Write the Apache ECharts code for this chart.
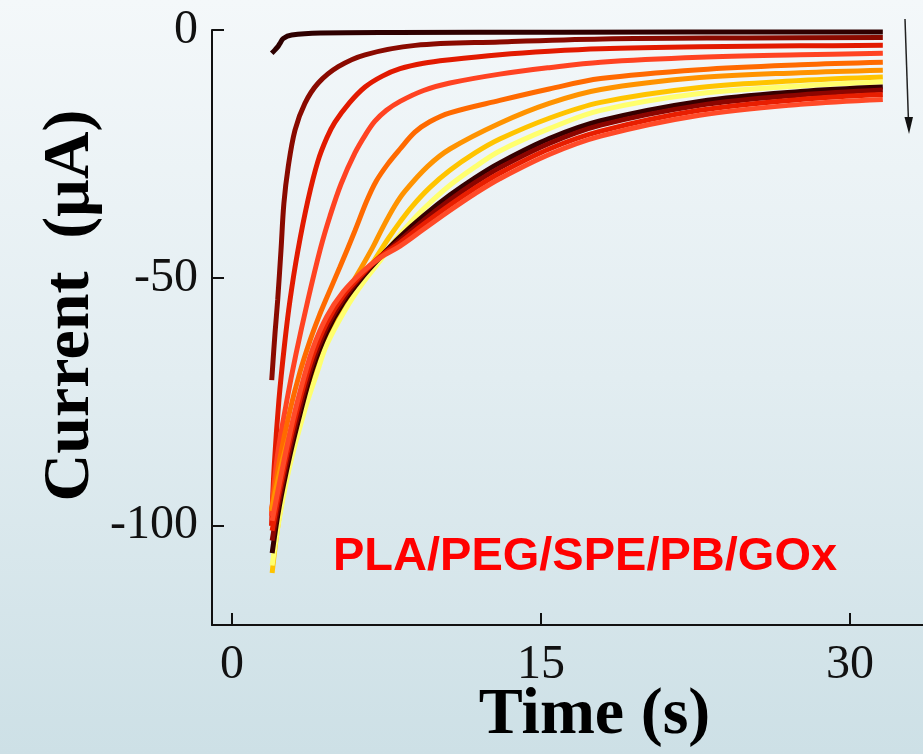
<!DOCTYPE html>
<html>
<head>
<meta charset="utf-8">
<title>Current vs Time</title>
<script src="https://cdn.jsdelivr.net/npm/echarts@6.0.0/dist/echarts.min.js"></script>
<style>
  html, body { margin: 0; padding: 0; }
  #chart { width: 923px; height: 754px; }
</style>
</head>
<body>
<div id="chart"></div>
<script>
// axis ticks
var xTicks = [0, 15, 30];
var yTicks = [-100, -50, 0];

// line colours, first curve to last
var colors = ['#2e0000', '#8a0a00', '#e21a00', '#ff4322', '#ff6a00', '#ff9300',
  '#ffc400', '#ffff6e', '#360000', '#8c0500', '#e81e00', '#ff4a28'];

// [time (s), current (uA)]
var c1 = [[1.93, -4.7], [2.09, -4.0], [2.22, -3.4], [2.33, -2.7], [2.49, -1.7], [2.9, -1.0], [4.3, -0.6], [8, -0.5], [16, -0.45], [31.6, -0.4]];
var c2 = [[1.93, -70.6], [2.09, -61.1], [2.22, -54.4], [2.38, -44.4], [2.52, -35], [2.73, -27.6], [3.06, -20.2], [3.54, -14.8], [4.19, -10.7], [5.16, -7.4], [6.46, -5.0], [8.9, -3.1], [13, -2.4], [18, -1.8], [25, -1.6], [31.6, -1.5]];
var c3 = [[1.92, -100], [2.05, -88], [2.28, -74.6], [2.55, -63.5], [2.82, -54.4], [3.2, -44.5], [3.69, -34.3], [4.17, -26.5], [4.6, -21.8], [5.0, -18.6], [5.7, -14.7], [6.46, -11.5], [7.3, -9.3], [8.16, -7.8], [9.3, -6.7], [10.58, -6.0], [13, -5.0], [15.4, -4.3], [17.9, -3.8], [22.7, -3.4], [27.6, -3.2], [31.6, -3.1]];
var c4 = [[1.92, -98], [2.2, -86], [2.67, -74.6], [3.1, -65.5], [3.69, -54.4], [4.3, -44], [4.76, -37.5], [5.3, -31], [5.97, -24.8], [6.5, -21], [6.94, -18.4], [7.5, -16.2], [8.16, -14.4], [9.3, -12.2], [10.58, -10.7], [13, -8.9], [15.4, -7.6], [17.9, -6.5], [22.7, -5.5], [27.6, -5.0], [31.6, -4.7]];
var c5 = [[1.92, -97], [2.3, -87], [2.8, -77], [3.3, -69], [3.8, -62.5], [4.2, -58], [4.6, -54], [5.24, -47.8], [5.97, -40.5], [6.54, -34.5], [7.0, -30.5], [7.57, -27], [8.16, -24], [8.88, -20.6], [9.6, -18.5], [10.58, -16.7], [13, -14.2], [15.4, -11.9], [17.9, -9.8], [22.7, -8], [27.6, -7], [31.6, -6.5]];
var c6 = [[1.92, -97], [2.5, -86], [3.2, -76], [4.0, -66.5], [4.7, -59.5], [5.49, -53.5], [6.2, -48.5], [6.84, -43.8], [7.3, -40], [7.9, -35.5], [8.4, -32.5], [9.5, -27.5], [10.58, -24], [13, -18.8], [15.4, -14.8], [17.9, -12], [22.7, -9.6], [27.6, -8.6], [31.6, -8.1]];
var c7 = [[1.95, -109.5], [2.3, -98], [2.8, -87], [3.4, -77.5], [4.1, -68], [4.8, -61], [5.6, -54.5], [6.3, -50], [6.9, -46.5], [7.6, -42], [8.16, -38.7], [8.74, -35.6], [9.6, -31.8], [10.58, -28.3], [11.8, -24.8], [13, -22], [15.4, -17.8], [17.9, -14.6], [22.7, -11.6], [27.6, -10.2], [31.6, -9.5]];
var c8 = [[1.95, -108], [2.3, -98.5], [2.8, -88], [3.54, -76.6], [4.1, -69.5], [4.6, -63.5], [5.49, -56.5], [6.36, -51], [7.2, -46.5], [7.9, -42.5], [8.8, -38.2], [9.7, -34.5], [10.58, -31.3], [11.8, -27.6], [13, -24.4], [15.4, -19.9], [17.9, -16.2], [22.7, -12.8], [27.6, -11.3], [31.6, -10.5]];
var c9 = [[1.95, -105.5], [2.3, -96], [2.8, -86], [3.3, -77.5], [3.9, -68.5], [4.6, -61], [5.4, -55], [6.3, -50], [7.2, -45.8], [8.16, -41.7], [9.3, -37.5], [10.58, -33.3], [11.8, -29.8], [13, -26.8], [15.4, -21.9], [17.9, -18.3], [22.7, -14.4], [27.6, -12.4], [31.6, -11.5]];
var c10 = [[1.95, -103], [2.3, -94.5], [2.8, -84.5], [3.3, -76], [3.9, -67.3], [4.6, -60], [5.4, -54.3], [6.3, -49.6], [7.2, -45.7], [8.16, -42.4], [9.3, -38.4], [10.58, -34.3], [11.8, -30.8], [13, -27.8], [15.4, -22.9], [17.9, -19.2], [22.7, -15.2], [27.6, -13.1], [31.6, -12.1]];
var c11 = [[1.95, -101], [2.3, -93], [2.8, -83], [3.3, -74.5], [3.9, -66], [4.6, -59], [5.4, -53.6], [6.3, -49.3], [7.2, -45.7], [8.16, -42.9], [9.3, -39.2], [10.58, -35.3], [11.8, -31.9], [13, -28.9], [15.4, -24], [17.9, -20.4], [22.7, -16.2], [27.6, -14], [31.6, -13]];
var c12 = [[1.95, -99], [2.3, -91.5], [2.8, -81.5], [3.3, -73], [3.9, -64.5], [4.6, -57.8], [5.4, -52.8], [6.3, -48.9], [7.2, -45.9], [8.16, -43.6], [9.3, -40.2], [10.58, -36.4], [11.8, -33], [13, -30], [15.4, -25.1], [17.9, -21.4], [22.7, -17.2], [27.6, -15], [31.6, -14]];

var curves = [c1, c2, c3, c4, c5, c6, c7, c8, c9, c10, c11, c12];

var serif = '"Liberation Serif", "Times New Roman", serif';

var myChart = echarts.init(document.getElementById('chart'));

var series = curves.map(function (d, i) {
  return {
    type: 'line',
    data: d,
    showSymbol: false,
    smooth: 0.35,
    lineStyle: { color: colors[i], width: 5 },
    z: 2 + i
  };
});

var option = {
  animation: false,
  backgroundColor: new echarts.graphic.LinearGradient(0, 0, 0, 1, [
    { offset: 0, color: '#f4f8fa' },
    { offset: 0.5, color: '#e2edf1' },
    { offset: 1, color: '#cde0e6' }
  ]),
  grid: { left: 212, top: 30, right: 0, bottom: 129, containLabel: false, outerBoundsMode: 'none' },
  xAxis: {
    type: 'value',
    min: -0.97,
    max: 33.55,
    name: 'Time (s)',
    nameLocation: 'middle',
    nameGap: 58,
    nameMoveOverlap: false,
    nameTextStyle: { fontFamily: serif, fontWeight: 'bold', fontSize: 66, color: '#000', padding: [0, 0, 0, 54] },
    axisLine: { onZero: false, lineStyle: { color: '#111', width: 2 } },
    axisTick: { inside: true, length: 12, customValues: xTicks, lineStyle: { color: '#111', width: 2 } },
    axisLabel: { customValues: xTicks, margin: 16, fontFamily: serif, fontSize: 48, color: '#111' },
    splitLine: { show: false }
  },
  yAxis: {
    type: 'value',
    min: -120,
    max: 0,
    name: 'Current  (\u03bcA)',
    nameLocation: 'middle',
    nameGap: 108,
    nameMoveOverlap: false,
    nameRotate: 90,
    nameTextStyle: { fontFamily: serif, fontWeight: 'bold', fontSize: 66, color: '#000', padding: [0, 0, 0, 44] },
    axisLine: { onZero: false, lineStyle: { color: '#111', width: 2 } },
    axisTick: { inside: true, length: 12, customValues: yTicks, lineStyle: { color: '#111', width: 2 } },
    axisLabel: { customValues: yTicks, margin: 14, fontFamily: serif, fontSize: 48, color: '#111' },
    splitLine: { show: false }
  },
  graphic: [
    {
      type: 'text',
      left: 333,
      top: 534,
      style: {
        text: 'PLA/PEG/SPE/PB/GOx',
        fill: '#ff0000',
        font: 'bold 47px "Liberation Sans", Arial, sans-serif'
      }
    },
    {
      type: 'line',
      shape: { x1: 905, y1: 19, x2: 908.5, y2: 122 },
      style: { stroke: '#222', lineWidth: 1.5 }
    },
    {
      type: 'polygon',
      shape: { points: [[904.5, 117], [913, 117], [909, 134]] },
      style: { fill: '#111' }
    }
  ],
  series: series
};

myChart.setOption(option);
</script>
</body>
</html>
